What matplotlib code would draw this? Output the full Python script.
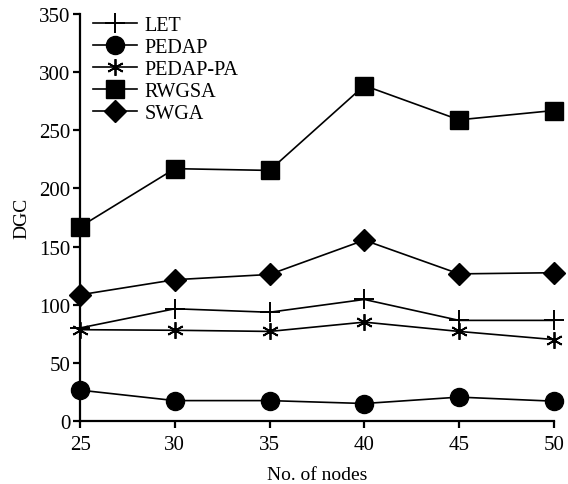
import matplotlib
matplotlib.use("Agg")
import matplotlib.pyplot as plt

plt.rcParams['font.family'] = ['Liberation Serif', 'DejaVu Serif']
plt.rcParams['font.size'] = 14

nodes = [25, 30, 35, 40, 45, 50]
let = [80, 96.5, 93.5, 104.5, 86.5, 86.5]
pedap = [26.5, 17.5, 17.5, 15, 20.5, 17]
pedap_pa = [78.5, 78, 77, 85, 77, 70]
rwgsa = [167, 217, 215.5, 288.5, 259, 267]
swga = [108.5, 121.5, 126, 155.5, 126.5, 127.5]

fig = plt.figure(figsize=(5.68, 4.85), dpi=100)
ax = fig.add_axes([0.141, 0.13, 0.834, 0.839])

lw = 1.2
ax.plot(nodes, let, color='black', lw=lw, marker='+', markersize=15,
        markeredgewidth=1.4, label='LET', clip_on=False)
ax.plot(nodes, pedap, color='black', lw=lw, marker='o', markersize=13,
        label='PEDAP', clip_on=False)
ax.plot(nodes, pedap_pa, color='black', lw=lw, marker=(6, 2, 0), markersize=12,
        markeredgewidth=1.3, label='PEDAP-PA', clip_on=False)
ax.plot(nodes, rwgsa, color='black', lw=lw, marker='s', markersize=13,
        label='RWGSA', clip_on=False)
ax.plot(nodes, swga, color='black', lw=lw, marker='D', markersize=11.5,
        label='SWGA', clip_on=False)

ax.set_xlim(25, 50)
ax.set_ylim(0, 350)
ax.set_xticks(nodes)
ax.set_yticks(range(0, 351, 50))

for side in ['top', 'right']:
    ax.spines[side].set_visible(False)
for side in ['left', 'bottom']:
    ax.spines[side].set_linewidth(1.6)
ax.tick_params(direction='out', length=5, width=1.6, labelsize=15)
ax.tick_params(axis='x', pad=5)
ax.tick_params(axis='y', pad=2)

ax.set_xlabel('No. of nodes', labelpad=9)
ax.set_ylabel('DGC', labelpad=6)

ax.legend(loc='upper left', bbox_to_anchor=(0.011, 1.016), frameon=False,
          handlelength=2.15, handletextpad=0.4, labelspacing=0.15,
          borderaxespad=0, fontsize=14.5)

fig.savefig('out.png', dpi=100)
